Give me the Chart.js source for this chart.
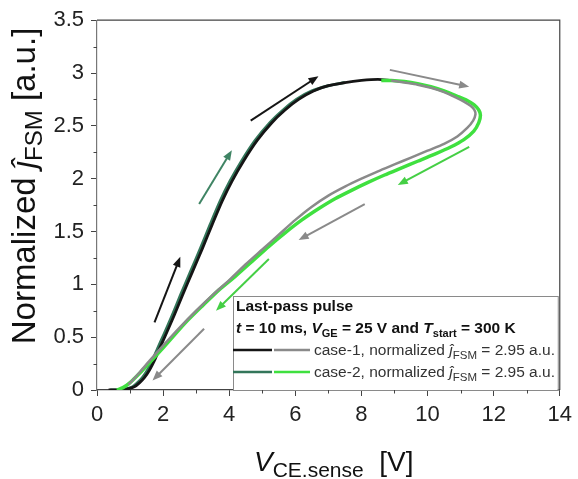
<!DOCTYPE html>
<html>
<head>
<meta charset="utf-8">
<script src="https://cdn.jsdelivr.net/npm/chart.js@4.4.0/dist/chart.umd.min.js"></script>
<style>
  html, body { margin: 0; padding: 0; background: #fff; }
</style>
</head>
<body>
<canvas id="chart" width="578" height="479"></canvas>
<script>
// axis ticks
const xTicks = [0, 2, 4, 6, 8, 10, 12, 14];
const yTicks = [0, 0.5, 1, 1.5, 2, 2.5, 3, 3.5];

// case-1 rising part (black) and falling part (gray)
const case1UpX = [0.35, 0.65, 0.92, 1.13, 1.29, 1.44, 1.59, 1.74, 1.89, 2.09, 2.34, 2.59, 2.89, 3.19, 3.49, 3.79, 4.09, 4.44, 4.84, 5.29, 5.69, 6.1, 6.55, 7.0, 7.5, 8.0, 8.5, 8.9];
const case1UpY = [0, 0, 0.01, 0.03, 0.07, 0.12, 0.19, 0.28, 0.39, 0.53, 0.71, 0.9, 1.12, 1.34, 1.57, 1.79, 1.98, 2.17, 2.36, 2.53, 2.65, 2.75, 2.83, 2.88, 2.91, 2.93, 2.94, 2.93];
const case1DownX = [8.9, 9.3, 9.7, 10.1, 10.5, 10.85, 11.1, 11.3, 11.42, 11.45, 11.38, 11.2, 10.9, 10.5, 10.0, 9.5, 9.0, 8.5, 8.0, 7.5, 7.0, 6.5, 6.0, 5.5, 5.0, 4.5, 4.0, 3.5, 3.0, 2.5, 2.0, 1.6, 1.3, 1.1, 0.95];
const case1DownY = [2.93, 2.91, 2.89, 2.86, 2.82, 2.77, 2.73, 2.69, 2.65, 2.61, 2.55, 2.48, 2.4, 2.33, 2.265, 2.2, 2.135, 2.07, 2.0, 1.925, 1.84, 1.735, 1.61, 1.47, 1.33, 1.19, 1.04, 0.9, 0.75, 0.59, 0.42, 0.28, 0.17, 0.1, 0.05];

// case-2 rising part (dark green) and falling part (bright green)
const case2UpX = [0.4, 0.65, 0.88, 1.08, 1.23, 1.38, 1.53, 1.68, 1.83, 2.03, 2.28, 2.53, 2.83, 3.13, 3.43, 3.73, 4.03, 4.38, 4.78, 5.23, 5.63, 6.03, 6.5, 7.0, 7.5];
const case2UpY = [0, 0, 0.01, 0.03, 0.07, 0.12, 0.19, 0.28, 0.39, 0.53, 0.71, 0.9, 1.12, 1.34, 1.57, 1.79, 1.98, 2.17, 2.36, 2.53, 2.65, 2.75, 2.83, 2.88, 2.91];
const case2DownX = [8.6, 8.9, 9.3, 9.7, 10.1, 10.5, 10.9, 11.2, 11.4, 11.55, 11.6, 11.55, 11.4, 11.1, 10.7, 10.2, 9.7, 9.2, 8.7, 8.2, 7.7, 7.2, 6.7, 6.2, 5.7, 5.2, 4.7, 4.2, 3.7, 3.2, 2.7, 2.2, 1.8, 1.45, 1.2, 1.0, 0.8, 0.6];
const case2DownY = [2.93, 2.93, 2.92, 2.9, 2.87, 2.83, 2.78, 2.74, 2.7, 2.65, 2.6, 2.53, 2.45, 2.37, 2.3, 2.23, 2.165, 2.1, 2.035, 1.965, 1.89, 1.81, 1.715, 1.61, 1.49, 1.36, 1.22, 1.08, 0.95, 0.8, 0.645, 0.47, 0.33, 0.21, 0.13, 0.07, 0.025, 0];

// direction arrows, in data units
const arrowStartX = [1.74, 3.09, 4.65, 8.86, 11.26, 8.1, 5.2, 3.24];
const arrowStartY = [0.64, 1.76, 2.55, 3.03, 2.3, 1.76, 1.24, 0.58];
const arrowEndX = [2.52, 4.08, 6.7, 11.26, 9.1, 6.1, 3.6, 1.68];
const arrowEndY = [1.26, 2.27, 2.97, 2.87, 1.94, 1.42, 0.75, 0.09];

// legend
const seriesNames = ['case-1', 'case-2'];
const peakValues = [2.95, 2.95];

const BLACK = '#151515';
const GRAY = '#8a8a8a';
const DKGREEN = '#33765a';
const GREEN = '#3fe03f';
const arrowColors = [BLACK, '#3f8464', BLACK, GRAY, '#45cf45', GRAY, '#45cf45', GRAY];

const FAM = '"Liberation Sans", Arial, sans-serif';
const pts = (xs, ys) => xs.map((x, i) => ({ x: x, y: ys[i] }));

function richText(ctx, x, y, parts) {
  let cx = x;
  parts.forEach(p => {
    ctx.font = p.font;
    ctx.fillText(p.t, cx, y + (p.dy || 0));
    cx += ctx.measureText(p.t).width;
  });
  return cx;
}

const extras = {
  id: 'extras',
  afterDatasetsDraw(chart) {
    const ctx = chart.ctx;
    const xs = chart.scales.x, ys = chart.scales.y;
    const a = chart.chartArea;

    // arrows
    ctx.save();
    for (let i = 0; i < arrowStartX.length; i++) {
      const x0 = xs.getPixelForValue(arrowStartX[i]), y0 = ys.getPixelForValue(arrowStartY[i]);
      const x1 = xs.getPixelForValue(arrowEndX[i]), y1 = ys.getPixelForValue(arrowEndY[i]);
      const ang = Math.atan2(y1 - y0, x1 - x0);
      ctx.strokeStyle = arrowColors[i];
      ctx.fillStyle = arrowColors[i];
      ctx.lineWidth = 2;
      ctx.beginPath();
      ctx.moveTo(x0, y0);
      ctx.lineTo(x1 - 6 * Math.cos(ang), y1 - 6 * Math.sin(ang));
      ctx.stroke();
      ctx.beginPath();
      ctx.moveTo(x1, y1);
      ctx.lineTo(x1 - 10 * Math.cos(ang) + 4 * Math.sin(ang), y1 - 10 * Math.sin(ang) - 4 * Math.cos(ang));
      ctx.lineTo(x1 - 10 * Math.cos(ang) - 4 * Math.sin(ang), y1 - 10 * Math.sin(ang) + 4 * Math.cos(ang));
      ctx.closePath();
      ctx.fill();
    }
    ctx.restore();

    // legend box
    ctx.save();
    const lx = 233, ly = 296;
    ctx.fillStyle = '#fff';
    ctx.fillRect(lx, ly, a.right - lx - 2, a.bottom - ly);
    ctx.strokeStyle = '#8a8a8a';
    ctx.lineWidth = 1;
    ctx.strokeRect(lx + 0.5, ly + 0.5, a.right - lx - 2, a.bottom - ly);
    ctx.fillStyle = '#111';
    ctx.textBaseline = 'alphabetic';
    const B = 'bold 15.5px ' + FAM;
    const BI = 'italic bold 15.5px ' + FAM;
    const BS = 'bold 11px ' + FAM;
    richText(ctx, lx + 3, 311, [{ t: 'Last-pass pulse', font: B }]);
    richText(ctx, lx + 3, 333, [
      { t: 't', font: BI }, { t: ' = 10 ms, ', font: B },
      { t: 'V', font: BI }, { t: 'GE', font: BS, dy: 4 }, { t: ' = 25 V and ', font: B },
      { t: 'T', font: BI }, { t: 'start', font: BS, dy: 4 }, { t: ' = 300 K', font: B }
    ]);
    const lineColors = [[BLACK, GRAY], [DKGREEN, GREEN]];
    const R = '15.5px ' + FAM;
    const RI = 'italic 15.5px ' + FAM;
    const RS = '11.5px ' + FAM;
    for (let k = 0; k < 2; k++) {
      const yy = 350 + k * 22;
      ctx.lineWidth = 2.5;
      ctx.strokeStyle = lineColors[k][0];
      ctx.beginPath(); ctx.moveTo(lx, yy); ctx.lineTo(lx + 39, yy); ctx.stroke();
      ctx.strokeStyle = lineColors[k][1];
      ctx.beginPath(); ctx.moveTo(lx + 41, yy); ctx.lineTo(lx + 77, yy); ctx.stroke();
      ctx.fillStyle = '#333';
      richText(ctx, lx + 81, yy + 5, [
        { t: seriesNames[k] + ', normalized ', font: R },
        { t: '\u0135', font: RI }, { t: 'FSM', font: RS, dy: 4 },
        { t: ' = ' + peakValues[k].toFixed(2) + ' a.u.', font: R }
      ]);
    }
    ctx.restore();
  },
  afterDraw(chart) {
    const ctx = chart.ctx;
    const xs = chart.scales.x, ys = chart.scales.y;
    const a = chart.chartArea;
    ctx.save();
    // frame on top and right
    ctx.strokeStyle = '#444';
    ctx.lineWidth = 1.2;
    ctx.beginPath();
    ctx.moveTo(a.left, a.top); ctx.lineTo(a.right, a.top); ctx.lineTo(a.right, a.bottom);
    ctx.stroke();
    // minor ticks
    ctx.lineWidth = 1;
    for (let v = 1; v < 14; v += 2) {
      const px = Math.round(xs.getPixelForValue(v)) + 0.5;
      ctx.beginPath(); ctx.moveTo(px, a.bottom); ctx.lineTo(px, a.bottom + 3.5); ctx.stroke();
    }
    for (let v = 0.25; v < 3.5; v += 0.5) {
      const py = Math.round(ys.getPixelForValue(v)) + 0.5;
      ctx.beginPath(); ctx.moveTo(a.left, py); ctx.lineTo(a.left - 3.5, py); ctx.stroke();
    }
    // axis titles
    ctx.fillStyle = '#111';
    ctx.textBaseline = 'alphabetic';
    richText(ctx, 254, 471, [
      { t: 'V', font: 'italic 28px ' + FAM }, { t: 'CE.sense', font: '21px ' + FAM, dy: 6 },
      { t: '  [V]', font: '28px ' + FAM }
    ]);
    ctx.translate(35, 186);
    ctx.rotate(-Math.PI / 2);
    const parts = [
      { t: 'Normalized ', font: '33px ' + FAM },
      { t: '\u0135', font: 'italic 33px ' + FAM },
      { t: 'FSM', font: '24px ' + FAM, dy: 7 },
      { t: ' [a.u.]', font: '33px ' + FAM }
    ];
    let w = 0;
    parts.forEach(p => { ctx.font = p.font; w += ctx.measureText(p.t).width; });
    richText(ctx, -w / 2, 0, parts);
    ctx.restore();
  }
};

const tickFont = { family: FAM, size: 22 };

new Chart(document.getElementById('chart'), {
  type: 'scatter',
  data: {
    datasets: [
      { label: 'case-1 (return)', data: pts(case1DownX, case1DownY), borderColor: GRAY, borderWidth: 2.5 },
      { label: 'case-2 (return)', data: pts(case2DownX, case2DownY), borderColor: GREEN, borderWidth: 3.5 },
      { label: 'case-1', data: pts(case1UpX, case1UpY), borderColor: BLACK, borderWidth: 2.8 },
      { label: 'case-2', data: pts(case2UpX, case2UpY), borderColor: DKGREEN, borderWidth: 3 }
    ].map(d => Object.assign(d, { showLine: true, pointRadius: 0, tension: 0.25, fill: false }))
  },
  options: {
    responsive: false,
    animation: false,
    layout: { padding: { top: 17, right: 14, left: 0, bottom: 0 } },
    plugins: { legend: { display: false }, tooltip: { enabled: false } },
    scales: {
      x: {
        min: 0, max: 14,
        afterBuildTicks: s => { s.ticks = xTicks.map(v => ({ value: v })); },
        afterFit: s => { s.height = 89; },
        ticks: { font: tickFont, color: '#222', padding: 6, maxRotation: 0, callback: v => String(v) },
        grid: { drawOnChartArea: false, tickLength: 6, color: '#444' },
        border: { color: '#444', width: 1.2 }
      },
      y: {
        min: 0, max: 3.5,
        afterBuildTicks: s => { s.ticks = yTicks.map(v => ({ value: v })); },
        afterFit: s => { s.width = 97; },
        ticks: { font: tickFont, color: '#222', padding: 7, callback: v => String(v) },
        grid: { drawOnChartArea: false, tickLength: 6, color: '#444' },
        border: { color: '#777', width: 1.2 }
      }
    }
  },
  plugins: [extras]
});
</script>
</body>
</html>
